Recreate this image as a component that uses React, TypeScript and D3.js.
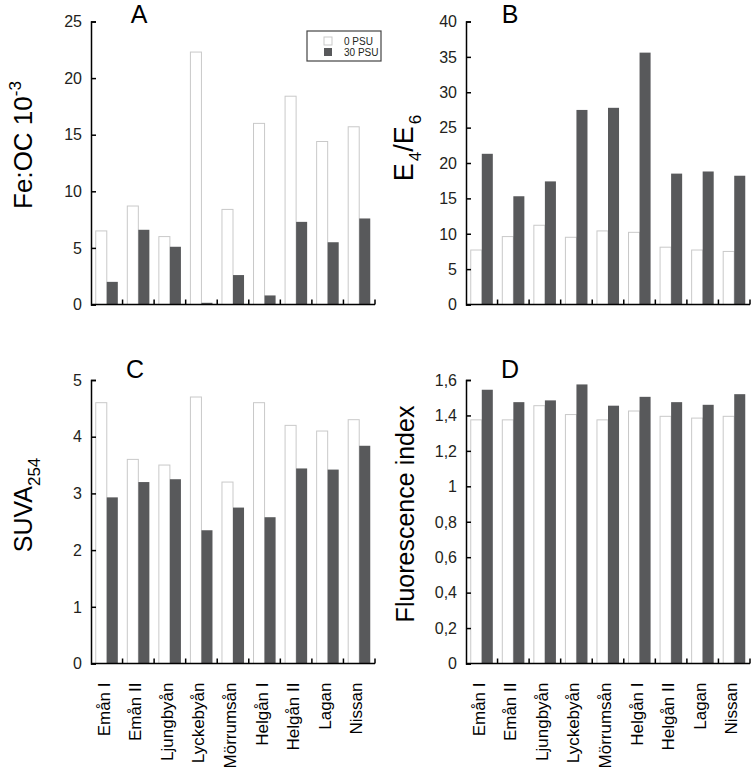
import React, { useEffect, useRef } from "react";
import * as d3 from "d3";

// Sites along the x axis
const sites = [
  "Emån I",
  "Emån II",
  "Ljungbyån",
  "Lyckebyån",
  "Mörrumsån",
  "Helgån I",
  "Helgån II",
  "Lagan",
  "Nissan",
];

const salinities = ["0 PSU", "30 PSU"];

// Panel A: Fe:OC 10^-3
const feOc0 = [6.5, 8.7, 6.0, 22.3, 8.4, 16.0, 18.4, 14.4, 15.7];
const feOc30 = [2.0, 6.6, 5.1, 0.15, 2.6, 0.8, 7.3, 5.5, 7.6];

// Panel B: E4/E6
const e4e6_0 = [7.7, 9.6, 11.2, 9.5, 10.4, 10.2, 8.1, 7.7, 7.5];
const e4e6_30 = [21.3, 15.3, 17.4, 27.5, 27.8, 35.6, 18.5, 18.8, 18.2];

// Panel C: SUVA254
const suva0 = [4.6, 3.6, 3.5, 4.7, 3.2, 4.6, 4.2, 4.1, 4.3];
const suva30 = [2.93, 3.2, 3.25, 2.35, 2.75, 2.58, 3.44, 3.42, 3.84];

// Panel D: fluorescence index
const fi0 = [1.375, 1.375, 1.455, 1.405, 1.375, 1.425, 1.395, 1.385, 1.395];
const fi30 = [1.545, 1.475, 1.485, 1.575, 1.455, 1.505, 1.475, 1.46, 1.52];

const ticksA = [0, 5, 10, 15, 20, 25];
const ticksB = [0, 5, 10, 15, 20, 25, 30, 35, 40];
const ticksC = [0, 1, 2, 3, 4, 5];
const ticksD = [0, 0.2, 0.4, 0.6, 0.8, 1, 1.2, 1.4, 1.6];

const FONT = "'Liberation Sans', Arial, Helvetica, sans-serif";
const DARK = "#58595b";
const LIGHT_STROKE = "#c9c9c9";
const TEXT = "#231f20";

interface Panel {
  letter: string;
  letterX: number;
  letterY: number;
  left: number;
  right: number;
  top: number;
  bottom: number;
  max: number;
  ticks: number[];
  v0: number[];
  v30: number[];
  showSites: boolean;
  fmt: (d: number) => string;
}

const App: React.FC = () => {
  const svgRef = useRef<SVGSVGElement | null>(null);

  useEffect(() => {
    const svg = d3.select(svgRef.current);
    svg.selectAll("*").remove();

    const comma = (d: number) => String(d).replace(".", ",");
    const plain = (d: number) => String(d);

    const panels: Panel[] = [
      { letter: "A", letterX: 139, letterY: 23, left: 91, right: 375, top: 21.5, bottom: 304.5, max: 25, ticks: ticksA, v0: feOc0, v30: feOc30, showSites: false, fmt: plain },
      { letter: "B", letterX: 510, letterY: 23, left: 466, right: 750, top: 21.5, bottom: 304.5, max: 40, ticks: ticksB, v0: e4e6_0, v30: e4e6_30, showSites: false, fmt: plain },
      { letter: "C", letterX: 135, letterY: 378, left: 91, right: 375, top: 380, bottom: 663.5, max: 5, ticks: ticksC, v0: suva0, v30: suva30, showSites: true, fmt: plain },
      { letter: "D", letterX: 510, letterY: 378, left: 466, right: 750, top: 380, bottom: 663.5, max: 1.6, ticks: ticksD, v0: fi0, v30: fi30, showSites: true, fmt: comma },
    ];

    panels.forEach((p) => {
      const g = svg.append("g");

      const x = d3.scaleBand<string>().domain(sites).range([p.left, p.right]);
      const xInner = d3
        .scaleBand<string>()
        .domain(salinities)
        .range([0, x.bandwidth()])
        .paddingInner(0)
        .paddingOuter(0.43);
      const y = d3.scaleLinear().domain([0, p.max]).range([p.bottom, p.top]);

      // bars
      sites.forEach((s, i) => {
        g.append("rect")
          .attr("x", (x(s) as number) + (xInner("0 PSU") as number))
          .attr("y", y(p.v0[i]))
          .attr("width", xInner.bandwidth())
          .attr("height", y(0) - y(p.v0[i]))
          .attr("fill", "#fff")
          .attr("stroke", LIGHT_STROKE)
          .attr("stroke-width", 1);
        g.append("rect")
          .attr("x", (x(s) as number) + (xInner("30 PSU") as number))
          .attr("y", y(p.v30[i]))
          .attr("width", xInner.bandwidth())
          .attr("height", y(0) - y(p.v30[i]))
          .attr("fill", DARK);
      });

      // y axis (ticks pointing inward)
      const yAxis = d3
        .axisRight(y)
        .tickValues(p.ticks)
        .tickSize(5)
        .tickFormat(() => "");
      const ya = g.append("g").attr("transform", `translate(${p.left},0)`).call(yAxis);
      ya.select(".domain").attr("stroke", "#000").attr("stroke-width", 1.5);
      ya.selectAll(".tick line").attr("stroke", "#000").attr("stroke-width", 1.5);

      p.ticks.forEach((t) => {
        g.append("text")
          .attr("x", p.left - 9)
          .attr("y", y(t))
          .attr("dy", "0.36em")
          .attr("text-anchor", "end")
          .attr("font-family", FONT)
          .attr("font-size", 16)
          .attr("fill", TEXT)
          .text(p.fmt(t));
      });

      // x axis, ticks at band boundaries pointing up
      g.append("line")
        .attr("x1", p.left)
        .attr("x2", p.right)
        .attr("y1", p.bottom)
        .attr("y2", p.bottom)
        .attr("stroke", "#000")
        .attr("stroke-width", 1.5);
      sites.forEach((s) => {
        const bx = (x(s) as number) + x.bandwidth();
        g.append("line")
          .attr("x1", bx)
          .attr("x2", bx)
          .attr("y1", p.bottom)
          .attr("y2", p.bottom - 5)
          .attr("stroke", "#000")
          .attr("stroke-width", 1.5);
      });

      // panel letter
      g.append("text")
        .attr("x", p.letterX)
        .attr("y", p.letterY)
        .attr("text-anchor", "middle")
        .attr("font-family", FONT)
        .attr("font-size", 25)
        .attr("fill", "#000")
        .text(p.letter);

      // site labels
      if (p.showSites) {
        sites.forEach((s) => {
          const cx = (x(s) as number) + x.bandwidth() / 2 + 3;
          g.append("text")
            .attr("transform", `translate(${cx},${p.bottom + 19}) rotate(-90)`)
            .attr("text-anchor", "end")
            .attr("font-family", FONT)
            .attr("font-size", 17)
            .attr("fill", "#000")
            .text(s);
        });
      }
    });

    // y axis titles
    const title = (tx: number, ty: number, size: number) =>
      svg
        .append("text")
        .attr("transform", `translate(${tx},${ty}) rotate(-90)`)
        .attr("text-anchor", "middle")
        .attr("font-family", FONT)
        .attr("font-size", size)
        .attr("fill", "#000");

    const tA = title(32, 145, 26);
    tA.append("tspan").text("Fe:OC 10");
    tA.append("tspan").attr("font-size", 17).attr("dy", -11).text("-3");

    const tB = title(413, 148, 27);
    tB.append("tspan").text("E");
    tB.append("tspan").attr("font-size", 17).attr("dy", 8).attr("dx", 2).text("4");
    tB.append("tspan").attr("dy", -8).text("/E");
    tB.append("tspan").attr("font-size", 17).attr("dy", 8).attr("dx", 2).text("6");

    const tC = title(32, 505, 25);
    tC.append("tspan").text("SUVA");
    tC.append("tspan").attr("font-size", 17).attr("dy", 8).text("254");

    title(414, 514, 25).text("Fluorescence index");

    // legend
    const lg = svg.append("g");
    lg.append("rect")
      .attr("x", 307)
      .attr("y", 31)
      .attr("width", 74)
      .attr("height", 30)
      .attr("fill", "#fff")
      .attr("stroke", "#444")
      .attr("stroke-width", 1.2);
    salinities.forEach((s, i) => {
      lg.append("rect")
        .attr("x", 324)
        .attr("y", 37 + i * 11)
        .attr("width", 8)
        .attr("height", 8)
        .attr("fill", i === 0 ? "#fff" : DARK)
        .attr("stroke", i === 0 ? LIGHT_STROKE : "none");
      lg.append("text")
        .attr("x", 344)
        .attr("y", 45 + i * 11)
        .attr("font-family", FONT)
        .attr("font-size", 10)
        .attr("fill", TEXT)
        .text(s);
    });
  }, []);

  return (
    <div>
      <svg
        ref={svgRef}
        width={755}
        height={768}
        style={{ position: "absolute", left: 0, top: 0, background: "#fff" }}
      ></svg>
    </div>
  );
};

export default App;
